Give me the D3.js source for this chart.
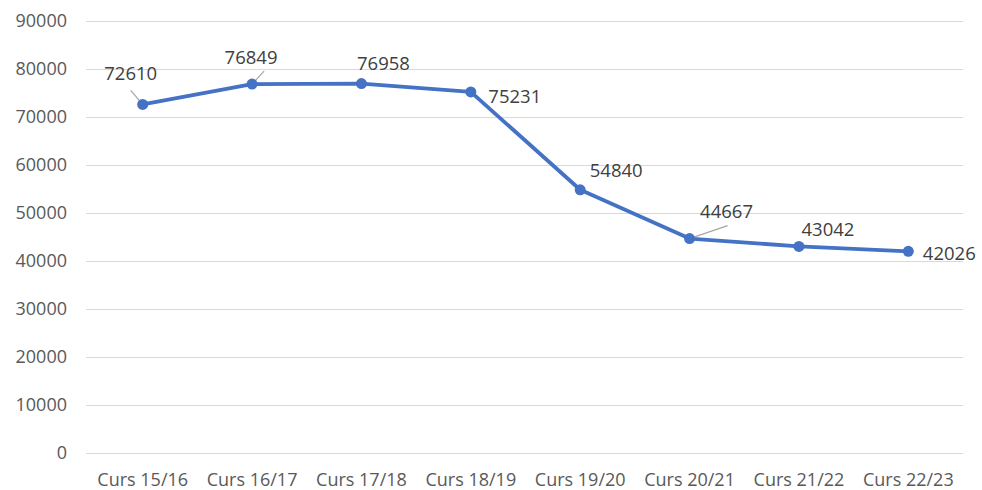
<!DOCTYPE html>
<html>
<head>
<meta charset="utf-8">
<script src="https://cdn.jsdelivr.net/npm/d3@7"></script>
<style>
  body { margin: 0; background: #fff; }
  svg text { font-family: "Open Sans", "Noto Sans", sans-serif; }
</style>
</head>
<body>
<div id="chart"></div>
<script>
const categories = ['Curs 15/16', 'Curs 16/17', 'Curs 17/18', 'Curs 18/19',
    'Curs 19/20', 'Curs 20/21', 'Curs 21/22', 'Curs 22/23'];
const values = [72610, 76849, 76958, 75231, 54840, 44667, 43042, 42026];
const yTicks = [0, 10000, 20000, 30000, 40000, 50000, 60000, 70000, 80000, 90000];

// label placement relative to the point (dx, dy in px)
const labelOffsets = [[-12, -32], [-1, -28], [22, -21], [44, 4], [36, -20], [37, -28], [29, -18], [41, 1]];
// leader line end relative to the point, null = no leader
const leaderEnds = [[-12, -14], [12, -13], null, null, null, [38, -13], null, null];

const width = 982;
const height = 490;
const margin = { top: 21, right: 19, bottom: 37, left: 88 };

const svg = d3.select('#chart').append('svg').attr('width', width).attr('height', height);

const chartWidth = width - margin.left - margin.right;
const chartHeight = height - margin.top - margin.bottom;

const chart = svg.append('g').attr('transform', `translate(${margin.left}, ${margin.top})`);

const xScale = d3.scaleBand().domain(categories).range([0, chartWidth]);
const yScale = d3.scaleLinear().domain([0, 90000]).range([chartHeight, 0]);

const cx = (i) => xScale(categories[i]) + xScale.bandwidth() / 2;

// gridlines
chart.append('g')
    .selectAll('line')
    .data(yTicks)
    .enter()
    .append('line')
    .attr('x1', -2)
    .attr('x2', chartWidth)
    .attr('y1', (d) => Math.round(yScale(d)) + 0.5)
    .attr('y2', (d) => Math.round(yScale(d)) + 0.5)
    .attr('stroke', '#d9d9d9')
    .attr('stroke-width', 1);

// y axis labels
const yAxis = chart.append('g').call(d3.axisLeft(yScale).tickValues(yTicks).tickSize(0).tickPadding(21).tickFormat(d3.format('d')));
yAxis.select('.domain').remove();
yAxis.selectAll('text').attr('fill', '#595959').style('font-size', '18px');

// x axis labels
const xAxis = chart.append('g')
    .attr('transform', `translate(0, ${chartHeight})`)
    .call(d3.axisBottom(xScale).tickSize(0).tickPadding(20));
xAxis.select('.domain').remove();
xAxis.selectAll('text').attr('fill', '#595959').style('font-size', '18px');

// line
const line = d3.line()
    .x((d, i) => cx(i))
    .y((d) => yScale(d));

chart.append('path')
    .datum(values)
    .attr('fill', 'none')
    .attr('stroke', '#4472c4')
    .attr('stroke-width', 3.8)
    .attr('stroke-linejoin', 'round')
    .attr('d', line);

// leader lines
chart.append('g')
    .selectAll('line')
    .data(values.map((v, i) => ({ v, i })).filter((d) => leaderEnds[d.i]))
    .enter()
    .append('line')
    .attr('x1', (d) => cx(d.i))
    .attr('y1', (d) => yScale(d.v))
    .attr('x2', (d) => cx(d.i) + leaderEnds[d.i][0])
    .attr('y2', (d) => yScale(d.v) + leaderEnds[d.i][1])
    .attr('stroke', '#a6a6a6')
    .attr('stroke-width', 1.2);

// markers
chart.append('g')
    .selectAll('circle')
    .data(values)
    .enter()
    .append('circle')
    .attr('cx', (d, i) => cx(i))
    .attr('cy', (d) => yScale(d))
    .attr('r', 5.5)
    .attr('fill', '#4472c4');

// data labels
chart.append('g')
    .selectAll('text')
    .data(values)
    .enter()
    .append('text')
    .attr('x', (d, i) => cx(i) + labelOffsets[i][0])
    .attr('y', (d, i) => yScale(d) + labelOffsets[i][1])
    .attr('text-anchor', 'middle')
    .attr('dominant-baseline', 'central')
    .attr('fill', '#404040')
    .style('font-size', '18.5px')
    .text((d) => d);
</script>
</body>
</html>
